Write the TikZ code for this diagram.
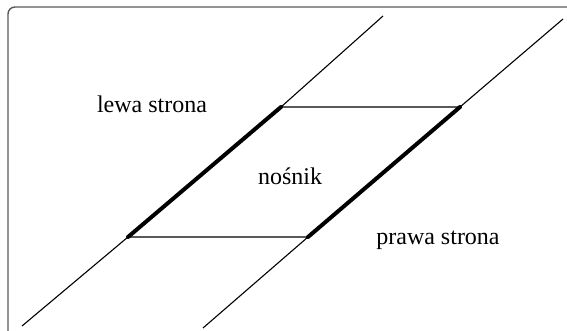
\documentclass[tikz,border=0pt]{standalone}
\usepackage{fontspec}
\setmainfont{Liberation Serif}
\begin{document}
\begin{tikzpicture}[x=0.5pt,y=-0.5pt,line width=0.55pt,thickside/.style={line width=2pt,line cap=round},
		font=\fontsize{12}{14}\selectfont]
			\useasboundingbox (0,0) rectangle (567,331);
			\draw[black!65,line width=0.7pt,rounded corners=3.5pt] (8,331) |- (567,7);
			\coordinate (l1) at (22,326); \coordinate (l2) at (128,237); \coordinate (l3) at (281,107); \coordinate (l4) at (383,16);
			\coordinate (p1) at (203,328); \coordinate (p2) at (308,237); \coordinate (p3) at (460,107); \coordinate (p4) at (563,19);
			\draw (l1)--(l2) (l3)--(l4) (p1)--(p2) (p3)--(p4) (l2)--(p2) (l3)--(p3);
			\draw[thickside] (l2)--(l3) (p2)--(p3);
			\node (lewa) at (152,104) {lewa strona};
			\node (nosnik) at (290,176) {nośnik};
			\node (prawa) at (438,240) {prawa strona};
		\end{tikzpicture}
\end{document}
